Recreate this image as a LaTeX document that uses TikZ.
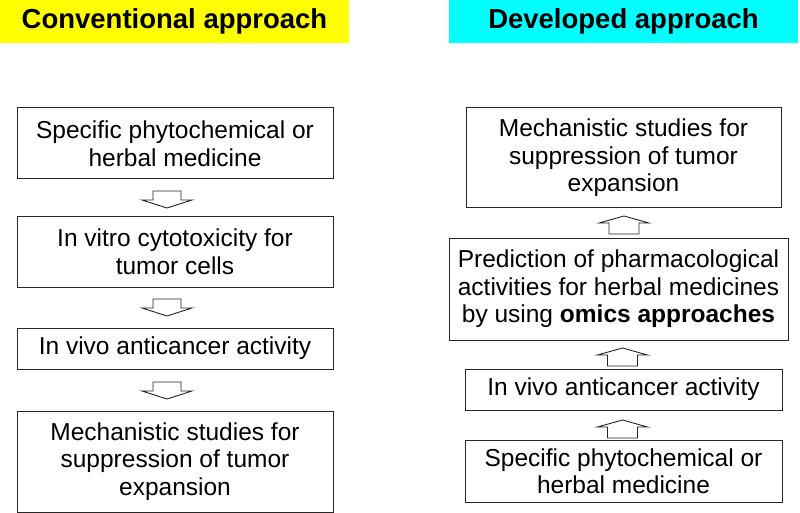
\documentclass[tikz,border=0pt]{standalone}
\usepackage{fontspec}
\setmainfont{Liberation Sans}
\begin{document}
\begin{tikzpicture}[x=1pt,y=-1pt,
  box/.style={draw=black!85, line width=1pt, fill=white, align=center, inner sep=0pt,
    font=\fontsize{24.5}{27.5}\selectfont},
  titlebox/.style={inner sep=0pt, font=\fontsize{27.5}{30}\selectfont\bfseries},
  blockarrow/.style={draw=black!85, line width=0.9pt, fill=white, line join=miter}
]
\useasboundingbox (0,0) rectangle (800,513);

% titles
\node[titlebox, fill={rgb,255:red,255;green,255;blue,0}, minimum width=349pt, minimum height=43pt] (t1) at (174.5,21.5) {Conventional approach};
\node[titlebox, fill={rgb,255:red,0;green,255;blue,255}, minimum width=349pt, minimum height=43pt] (t2) at (623.5,21.5) {Developed approach};

% left column
\node[box, minimum width=316pt, minimum height=71pt] (l1) at (175,143.5) {Specific phytochemical or\\herbal medicine};
\node[box, minimum width=316pt, minimum height=71pt] (l2) at (175,251.5) {In vitro cytotoxicity for\\tumor cells};
\node[box, minimum width=316pt, minimum height=41pt] (l3) at (175,348.5) {In vivo anticancer activity};
\node[box, minimum width=316pt, minimum height=101pt] (l4) at (175,461.5) {Mechanistic studies for\\suppression of tumor\\expansion};

% right column
\node[box, minimum width=315pt, minimum height=100pt] (r1) at (623.5,158) {Mechanistic studies for\\suppression of tumor\\expansion};
\node[box, minimum width=339pt, minimum height=102pt] (r2) at (618.5,289) {Prediction of pharmacological\\activities for herbal medicines\\by using \textbf{omics approaches}};
\node[box, minimum width=317pt, minimum height=41pt] (r3) at (623.5,389.5) {In vivo anticancer activity};
\node[box, minimum width=317pt, minimum height=62pt] (r4) at (623.5,471) {Specific phytochemical or\\herbal medicine};

% down block arrows (left)
\foreach \t in {191,299,382}{
  \draw[blockarrow] (153,\t) -- (181,\t) -- (181,\t+9) -- (192,\t+9) -- (167,\t+17)
     -- (142,\t+9) -- (153,\t+9) -- cycle;
}
% up block arrows (right)
\foreach \t/\c in {216/624,348/622.5,420/622.5}{
  \draw[blockarrow] (\c,\t) -- (\c+25,\t+7) -- (\c+15,\t+7) -- (\c+15,\t+18)
     -- (\c-15,\t+18) -- (\c-15,\t+7) -- (\c-25,\t+7) -- cycle;
}
\end{tikzpicture}
\end{document}
